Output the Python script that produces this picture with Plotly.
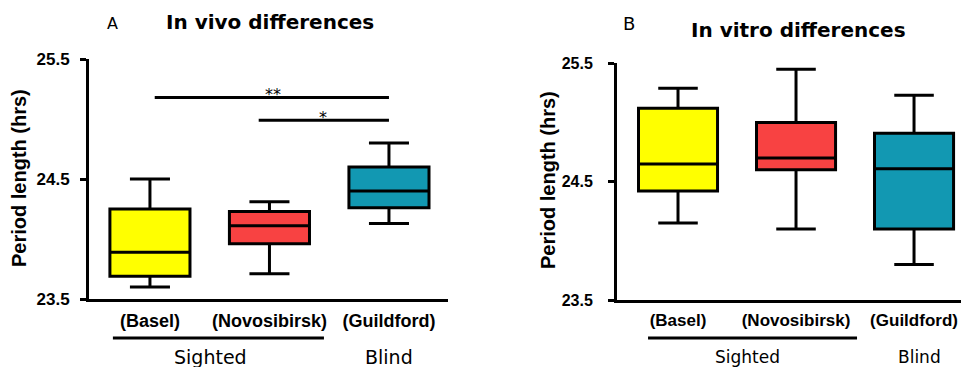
import plotly.graph_objects as go

# ---- data -------------------------------------------------------------
groups = ["(Basel)", "(Novosibirsk)", "(Guildford)"]
box_colors = ["#FFFF00", "#F84242", "#1298B2"]

# In vivo period lengths (hrs): box-plot summary per group
vivo_low = [23.60, 23.71, 24.13]
vivo_q1 = [23.69, 23.96, 24.26]
vivo_median = [23.89, 24.11, 24.40]
vivo_q3 = [24.25, 24.23, 24.60]
vivo_high = [24.50, 24.31, 24.80]

# In vitro period lengths (hrs)
vitro_low = [24.15, 24.10, 23.80]
vitro_q1 = [24.42, 24.60, 24.10]
vitro_median = [24.65, 24.70, 24.61]
vitro_q3 = [25.12, 25.00, 24.91]
vitro_high = [25.29, 25.45, 25.23]

# significance bars for the in vivo panel: (from group, to group, level, label, star x)
sig_from = [0.04, 0.91]
sig_to = [2.0, 2.0]
sig_level = [25.18, 24.99]
sig_label = ["**", "*"]
sig_star_x = [1.03, 1.45]

y_ticks = [23.5, 24.5, 25.5]
y_tick_text = ["23.5", "24.5", "25.5"]

# ---- layout helpers ----------------------------------------------------
W, H = 961, 367


def px_x(p):
    return p / W


def px_y(p):
    return 1 - p / H


fig = go.Figure()

panels = [
    dict(x="x", y="y", low=vivo_low, q1=vivo_q1, med=vivo_median, q3=vivo_q3, high=vivo_high),
    dict(x="x2", y="y2", low=vitro_low, q1=vitro_q1, med=vitro_median, q3=vitro_q3, high=vitro_high),
]

for p in panels:
    for i, name in enumerate(groups):
        fig.add_trace(go.Box(
            x=[i], q1=[p["q1"][i]], median=[p["med"][i]], q3=[p["q3"][i]],
            lowerfence=[p["low"][i]], upperfence=[p["high"][i]],
            name=name, fillcolor=box_colors[i],
            line=dict(color="black", width=3),
            width=0.67, whiskerwidth=0.5, boxpoints=False,
            xaxis=p["x"], yaxis=p["y"], showlegend=False, hoverinfo="skip",
        ))

tick_font_a = dict(family="Liberation Sans", size=17, color="black", weight="bold")
tick_font_b = dict(family="Liberation Sans Narrow, Liberation Sans", size=16, color="black", weight="bold")
cat_font_a = dict(family="Liberation Sans", size=18, color="black", weight="bold")
cat_font_b = dict(family="Liberation Sans Narrow, Liberation Sans", size=17, color="black", weight="bold")

common_y = dict(range=[23.5, 25.5], tickvals=y_ticks, ticktext=y_tick_text,
                showline=True, linecolor="black", linewidth=3,
                ticks="outside", ticklen=6, tickwidth=3, tickcolor="black",
                showgrid=False, zeroline=False, fixedrange=True, automargin=False)
common_x = dict(tickvals=[0, 1, 2], ticktext=groups,
                showline=True, linecolor="black", linewidth=3,
                ticks="", showgrid=False, zeroline=False, fixedrange=True, automargin=False)

fig.update_layout(
    width=W, height=H, margin=dict(l=0, r=0, t=0, b=0, pad=0, autoexpand=False),
    paper_bgcolor="white", plot_bgcolor="white", boxmode="overlay",
    xaxis=dict(common_x, domain=[px_x(89), px_x(448)], range=[-0.51, 2.494],
               tickfont=cat_font_a, ticklabelstandoff=3),
    yaxis=dict(common_y, domain=[px_y(299), px_y(59)], tickfont=tick_font_a,
               ticklabelstandoff=7),
    xaxis2=dict(common_x, domain=[px_x(617), 1.0], range=[-0.517, 2.398],
                tickfont=cat_font_b, ticklabelstandoff=3, anchor="y2"),
    yaxis2=dict(common_y, domain=[px_y(300), px_y(63.3)], tickfont=tick_font_b,
                ticklabelstandoff=12, anchor="x2"),
)

shapes = []
annotations = []

# significance bars and stars
for f, t, lv, lab, sx in zip(sig_from, sig_to, sig_level, sig_label, sig_star_x):
    shapes.append(dict(type="line", xref="x", yref="y", x0=f, x1=t, y0=lv, y1=lv,
                       line=dict(color="black", width=3)))
    annotations.append(dict(xref="x", yref="y", x=sx, y=lv, text=lab, showarrow=False,
                            xanchor="center", yanchor="bottom", yshift=-9,
                            font=dict(family="DejaVu Sans", size=16, color="black")))

# group brackets under the category labels
shapes.append(dict(type="line", xref="x", yref="paper", x0=-0.31, x1=1.456,
                   y0=px_y(338), y1=px_y(338), line=dict(color="black", width=3)))
shapes.append(dict(type="line", xref="x2", yref="paper", x0=-0.254, x1=1.517,
                   y0=px_y(338), y1=px_y(338), line=dict(color="black", width=3)))

grp_font_a = dict(family="DejaVu Sans", size=19, color="black")
grp_font_b = dict(family="DejaVu Sans", size=17, color="black")
annotations += [
    dict(xref="x", yref="paper", x=0.51, y=px_y(357), text="Sighted", showarrow=False,
         xanchor="center", yanchor="middle", font=grp_font_a),
    dict(xref="x", yref="paper", x=2.0, y=px_y(357), text="Blind", showarrow=False,
         xanchor="center", yanchor="middle", font=grp_font_a),
    dict(xref="x2", yref="paper", x=0.587, y=px_y(357), text="Sighted", showarrow=False,
         xanchor="center", yanchor="middle", font=grp_font_b),
    dict(xref="x2", yref="paper", x=2.05, y=px_y(357), text="Blind", showarrow=False,
         xanchor="center", yanchor="middle", font=grp_font_b),
]

# titles and panel letters
title_font = dict(family="DejaVu Sans", size=20, color="black", weight="bold")
annotations += [
    dict(xref="paper", yref="paper", x=px_x(270), y=px_y(22), text="In vivo differences",
         showarrow=False, xanchor="center", yanchor="middle", font=title_font),
    dict(xref="paper", yref="paper", x=px_x(798), y=px_y(30), text="In vitro differences",
         showarrow=False, xanchor="center", yanchor="middle", font=title_font),
    dict(xref="paper", yref="paper", x=px_x(112), y=px_y(23), text="A",
         showarrow=False, xanchor="center", yanchor="middle",
         font=dict(family="DejaVu Sans", size=16, color="black")),
    dict(xref="paper", yref="paper", x=px_x(629), y=px_y(23), text="B",
         showarrow=False, xanchor="center", yanchor="middle",
         font=dict(family="DejaVu Sans", size=18, color="black")),
]

# y-axis titles
ytitle_font = dict(family="Liberation Sans", size=20, color="black", weight="bold")
annotations += [
    dict(xref="paper", yref="paper", x=px_x(19), y=px_y(178), text="Period length (hrs)",
         textangle=-90, showarrow=False, xanchor="center", yanchor="middle", font=ytitle_font),
    dict(xref="paper", yref="paper", x=px_x(548), y=px_y(180), text="Period length (hrs)",
         textangle=-90, showarrow=False, xanchor="center", yanchor="middle", font=ytitle_font),
]

fig.update_layout(shapes=shapes, annotations=annotations)
fig.write_html("out.html")
